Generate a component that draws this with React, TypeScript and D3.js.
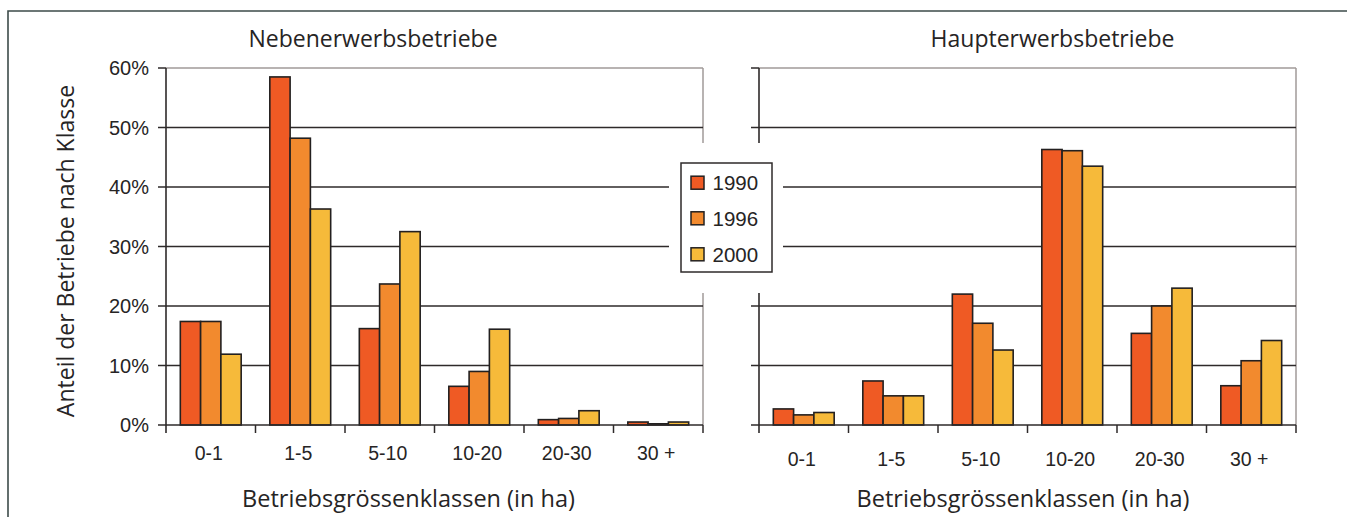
import React from 'react';
import * as d3 from 'd3';

const categories = ['0-1', '1-5', '5-10', '10-20', '20-30', '30 +'];
const years = ['1990', '1996', '2000'];
const neben1990 = [17.4, 58.5, 16.2, 6.5, 0.9, 0.5];
const neben1996 = [17.4, 48.2, 23.7, 9.0, 1.1, 0.2];
const neben2000 = [11.9, 36.3, 32.5, 16.1, 2.4, 0.5];
const haupt1990 = [2.7, 7.4, 22.0, 46.3, 15.4, 6.6];
const haupt1996 = [1.7, 4.9, 17.1, 46.1, 20.0, 10.8];
const haupt2000 = [2.1, 4.9, 12.6, 43.5, 23.0, 14.2];
const yTicks = [0, 10, 20, 30, 40, 50, 60];
const yTickLabels = ['0%', '10%', '20%', '30%', '40%', '50%', '60%'];
const colors = ['#EF5A24', '#F28A2E', '#F6BA3A'];

const W = 1347;
const H = 517;
const SANS = '"Open Sans", sans-serif';
const ARIAL = '"Liberation Sans", Arial, sans-serif';
const DARK = '#262424';
const GRID = '#2e2a2a';
const BORDER = '#a09a98';

const y = d3.scaleLinear().domain([0, 60]).range([425, 68]);

type PanelProps = {
  x0: number;
  x1: number;
  series: number[][];
  showYLabels: boolean;
  labelBaseline: number;
};

function Panel({ x0, x1, series, showYLabels, labelBaseline }: PanelProps) {
  const xb = d3.scaleBand<string>().domain(categories).range([x0, x1]).paddingInner(0.32).paddingOuter(0.16);
  const xs = d3.scaleBand<string>().domain(years).range([0, xb.bandwidth()]);
  const step = xb.step();
  const bounds = d3.range(categories.length + 1).map((i) => x0 + i * step);
  return (
    <g>
      <line x1={x0} x2={x1} y1={y(60)} y2={y(60)} stroke={BORDER} strokeWidth={1.5} />
      <line x1={x1} x2={x1} y1={y(60)} y2={y(0)} stroke={BORDER} strokeWidth={1.5} />
      {yTicks.filter((t) => t > 0 && t < 60).map((t) => (
        <line key={t} x1={x0 - 8} x2={x1} y1={y(t)} y2={y(t)} stroke={GRID} strokeWidth={1.5} />
      ))}
      <line x1={x0 - 8} x2={x0} y1={y(60)} y2={y(60)} stroke={GRID} strokeWidth={1.5} />
      {categories.map((c, i) => (
        <g key={c}>
          {years.map((yr, j) => {
            const v = series[j][i];
            return (
              <rect
                key={yr}
                x={(xb(c) as number) + (xs(yr) as number)}
                y={y(v)}
                width={xs.bandwidth()}
                height={y(0) - y(v)}
                fill={colors[j]}
                stroke="#232020"
                strokeWidth={1.6}
              />
            );
          })}
        </g>
      ))}
      <line x1={x0 - 8} x2={x1} y1={y(0)} y2={y(0)} stroke={GRID} strokeWidth={1.6} />
      <line x1={x0} x2={x0} y1={y(60)} y2={y(0) + 8} stroke={GRID} strokeWidth={1.6} />
      {bounds.slice(1).map((bx, i) => (
        <line key={i} x1={bx} x2={bx} y1={y(0)} y2={y(0) + 8} stroke={GRID} strokeWidth={1.5} />
      ))}
      {categories.map((c) => (
        <text
          key={c}
          x={(xb(c) as number) + xb.bandwidth() / 2 - 2}
          y={labelBaseline}
          textAnchor="middle"
          fontFamily={ARIAL}
          fontSize={19.5}
          fill={DARK}
        >
          {c}
        </text>
      ))}
      {showYLabels &&
        yTicks.map((t, i) => (
          <text
            key={t}
            x={x0 - 17}
            y={y(t)}
            dy="0.36em"
            textAnchor="end"
            fontFamily={ARIAL}
            fontSize={20}
            fill={DARK}
          >
            {yTickLabels[i]}
          </text>
        ))}
    </g>
  );
}

export default function App() {
  const legendY = [182.7, 218.3, 254.3];
  return (
    <svg
      width={W}
      height={H}
      viewBox={`0 0 ${W} ${H}`}
      style={{ position: 'absolute', left: 0, top: 0, background: '#fff' }}
    >
      <rect x={0} y={0} width={W} height={H} fill="#fff" />
      <path d={`M8,${H} V11 H${W}`} fill="none" stroke="#3d4b4a" strokeWidth={1.6} />

      <text x={373} y={46.5} textAnchor="middle" fontFamily={SANS} fontSize={23} fill={DARK}>
        Nebenerwerbsbetriebe
      </text>
      <text x={1052.5} y={46.5} textAnchor="middle" fontFamily={SANS} fontSize={23} fill={DARK}>
        Haupterwerbsbetriebe
      </text>

      <Panel x0={166} x1={703} series={[neben1990, neben1996, neben2000]} showYLabels={true} labelBaseline={459.5} />
      <Panel x0={759} x1={1296} series={[haupt1990, haupt1996, haupt2000]} showYLabels={false} labelBaseline={465.5} />

      <text x={408.5} y={506.5} textAnchor="middle" fontFamily={SANS} fontSize={23.5} fill={DARK}>
        Betriebsgrössenklassen (in ha)
      </text>
      <text x={1023} y={506.5} textAnchor="middle" fontFamily={SANS} fontSize={23.5} fill={DARK}>
        Betriebsgrössenklassen (in ha)
      </text>
      <text
        transform="translate(74,251) rotate(-90)"
        textAnchor="middle"
        fontFamily={SANS}
        fontSize={23}
        fill={DARK}
      >
        Anteil der Betriebe nach Klasse
      </text>

      <rect x={669} y={143} width={114} height={150} fill="#fff" />
      <rect x={681} y={163} width={91} height={109} fill="#fff" stroke="#2e2a2a" strokeWidth={1.5} />
      {years.map((yr, j) => (
        <g key={yr}>
          <rect x={691} y={legendY[j] - 6.5} width={13} height={13} fill={colors[j]} stroke="#232020" strokeWidth={1.5} />
          <text x={712.5} y={legendY[j]} dy="0.36em" fontFamily={ARIAL} fontSize={20.5} fill={DARK}>
            {yr}
          </text>
        </g>
      ))}
    </svg>
  );
}
